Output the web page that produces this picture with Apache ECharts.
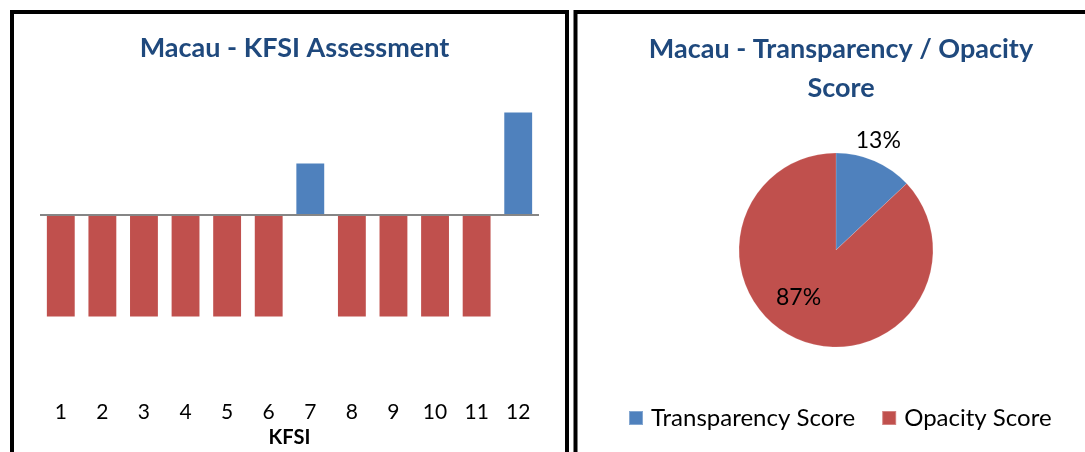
<!DOCTYPE html>
<html>
<head>
<meta charset="utf-8">
<script src="https://cdn.jsdelivr.net/npm/echarts@6/dist/echarts.min.js"></script>
<style>
  html, body { margin: 0; padding: 0; background: #fff; }
  #main { width: 1085px; height: 452px; }
</style>
</head>
<body>
<div id="main"></div>
<script>
// KFSI values
var kfsiCats = ['1', '2', '3', '4', '5', '6', '7', '8', '9', '10', '11', '12'];
var kfsiValues = [-1, -1, -1, -1, -1, -1, 0.5, -1, -1, -1, -1, 1];

// pie shares
var pieNames = ['Transparency Score', 'Opacity Score'];
var pieValues = [13, 87];

var blue = '#4F81BD';
var red = '#C0504D';
var titleColor = '#1F497D';
var font = 'Lato';

var myChart = echarts.init(document.getElementById('main'));
var option = {
    backgroundColor: '#fff',
    textStyle: { fontFamily: font },
    animation: false,
    graphic: [
        { type: 'rect', shape: { x: 12, y: 12, width: 555, height: 500 },
          style: { fill: 'none', stroke: '#000', lineWidth: 4 } },
        { type: 'rect', shape: { x: 575.5, y: 12, width: 600, height: 500 },
          style: { fill: 'none', stroke: '#000', lineWidth: 4 } }
    ],
    title: [
        {
            text: 'Macau - KFSI Assessment',
            left: 289.5, top: 30, textAlign: 'center',
            textStyle: { fontFamily: font, fontSize: 27, fontWeight: 'bold', color: titleColor }
        },
        {
            text: 'Macau - Transparency / Opacity\nScore',
            left: 836, top: 25, textAlign: 'center',
            textStyle: { fontFamily: font, fontSize: 27, fontWeight: 'bold', color: titleColor, lineHeight: 39 }
        }
    ],
    legend: {
        data: pieNames,
        left: 628, top: 406, padding: 0,
        itemWidth: 14, itemHeight: 14, itemGap: 26,
        icon: 'rect',
        textStyle: { fontFamily: font, fontSize: 24, color: '#000', padding: [0, 0, 0, 3] }
    },
    grid: { left: 40, right: 546, top: 92.1, bottom: 64.1, outerBoundsMode: 'none', containLabel: false },
    xAxis: {
        type: 'category',
        data: kfsiCats,
        axisLine: { show: false },
        axisTick: { show: false },
        axisLabel: { fontSize: 21, color: '#000', margin: 14 },
        name: 'KFSI',
        nameLocation: 'middle',
        nameGap: 32,
        nameTextStyle: { fontFamily: font, fontSize: 20, fontWeight: 'bold', color: '#000' }
    },
    yAxis: {
        type: 'value',
        min: -1.7, max: 1.2,
        show: false,
        splitLine: { show: false }
    },
    series: [
        {
            type: 'bar',
            data: kfsiValues,
            barCategoryGap: '33%',
            itemStyle: {
                color: function (p) { return p.value >= 0 ? blue : red; }
            },
            markLine: {
                silent: true,
                symbol: 'none',
                label: { show: false },
                lineStyle: { color: '#868686', width: 2, type: 'solid' },
                data: [{ yAxis: 0 }]
            }
        },
        {
            type: 'pie',
            center: [836, 250],
            radius: 97,
            startAngle: 90,
            clockwise: true,
            color: [blue, red],
            itemStyle: { borderColor: 'rgba(255,255,255,0.3)', borderWidth: 0.5 },
            data: [
                {
                    name: pieNames[0], value: pieValues[0],
                    label: { position: 'outside', offset: [-27, -13] },
                    labelLine: { show: false, length: 8, length2: 0 }
                },
                {
                    name: pieNames[1], value: pieValues[1],
                    label: { position: 'inside', offset: [-17, 0] }
                }
            ],
            label: {
                formatter: '{d}%',
                fontFamily: font,
                fontSize: 23,
                color: '#000'
            },
            labelLine: { show: false }
        }
    ]
};
myChart.setOption(option);
</script>
</body>
</html>
